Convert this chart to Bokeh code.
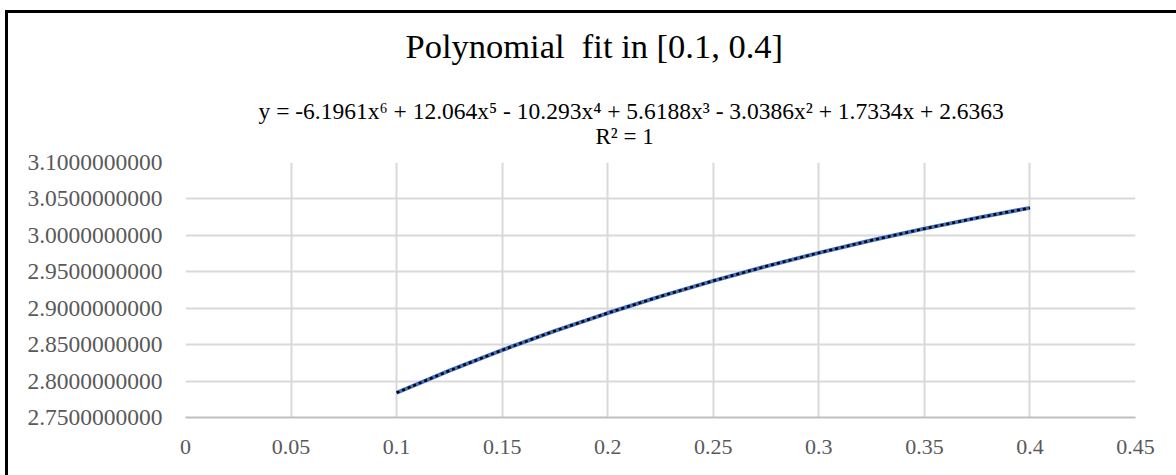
from bokeh.plotting import figure
from bokeh.layouts import column, row
from bokeh.models import Range1d, FixedTicker, PrintfTickFormatter, Div
from bokeh.core.properties import value
from bokeh.embed import file_html
from bokeh.resources import INLINE

# data
x_vals = [0.1, 0.125, 0.15, 0.175, 0.2, 0.225, 0.25, 0.275, 0.3, 0.325, 0.35, 0.375, 0.4]
y_vals = [2.7840, 2.8143, 2.8425, 2.8689, 2.8934, 2.9163, 2.9376, 2.9575, 2.9760, 2.9932, 3.0092, 3.0240, 3.0377]

x_ticks = [0, 0.05, 0.1, 0.15, 0.2, 0.25, 0.3, 0.35, 0.4, 0.45]
x_tick_labels = ["0", "0.05", "0.1", "0.15", "0.2", "0.25", "0.3", "0.35", "0.4", "0.45"]
y_ticks = [2.75, 2.8, 2.85, 2.9, 2.95, 3.0, 3.05, 3.1]

title_text = "Polynomial\u00a0 fit in [0.1, 0.4]"
equation_text = "y = -6.1961x\u2076 + 12.064x\u2075 - 10.293x\u2074 + 5.6188x\u00b3 - 3.0386x\u00b2 + 1.7334x + 2.6363"
r2_text = "R\u00b2 = 1"

FONT = "Liberation Serif"
FX, FY, BW = 5, 10, 3          # chart-area frame: left/top edge and thickness
OX, OY = FX + BW, FY + BW      # content origin in page pixels
W = 1176 - OX
PL, PR, PT, PB = 185, 1135, 162, 417   # plot area in page pixels
HEAD_BOTTOM = 150
HEAD_H = HEAD_BOTTOM - OY
MAIN_H = 475 - HEAD_BOTTOM
TEXT_SHIFT = 10                # measured baseline correction of the text glyph

def hy(py):   # page y -> header y
    return py - OY - TEXT_SHIFT

# ---- header with title, equation, R^2 (its frame is aligned with the plot area) ----
head = figure(width=W, height=HEAD_H, output_backend="svg", toolbar_location=None,
              x_range=Range1d(PL, PR), y_range=Range1d(HEAD_H, 0),
              x_axis_type=None, y_axis_type=None,
              min_border=0, min_border_left=0, min_border_right=0, min_border_top=0, min_border_bottom=0)
head.grid.visible = False
head.outline_line_color = None
head.background_fill_color = "white"
head.border_fill_color = "white"

head.text(x=[405], y=[hy(55)], text=[title_text], text_font=value(FONT), text_font_size="34.5px",
          text_color="black", text_align="left", text_baseline="alphabetic")
head.text(x=[258], y=[hy(120)], text=[equation_text], text_font=value(FONT), text_font_size="23.5px",
          text_color="black", text_align="left", text_baseline="alphabetic")
head.text(x=[595], y=[hy(145.5)], text=[r2_text], text_font=value(FONT), text_font_size="23px",
          text_color="black", text_align="left", text_baseline="alphabetic")

# ---- main plot ----
p = figure(width=W, height=MAIN_H, output_backend="svg", toolbar_location=None,
           x_range=Range1d(0, 0.45), y_range=Range1d(2.75, 3.1),
           min_border_left=PL - OX, min_border_right=1176 - PR,
           min_border_top=PT - HEAD_BOTTOM, min_border_bottom=475 - PB)
p.outline_line_color = None
p.background_fill_color = "white"
p.border_fill_color = "white"

p.xaxis.ticker = FixedTicker(ticks=x_ticks)
p.xaxis.major_label_overrides = {t: s for t, s in zip(x_ticks, x_tick_labels)}
p.yaxis.ticker = FixedTicker(ticks=y_ticks)
p.yaxis.formatter = PrintfTickFormatter(format="%.10f")

for ax in (p.xaxis, p.yaxis):
    ax.major_tick_line_color = None
    ax.minor_tick_line_color = None
    ax.major_label_text_font = FONT
    ax.major_label_text_color = "#595959"
p.xaxis.major_label_text_font_size = "22px"
p.yaxis.major_label_text_font_size = "23.5px"
p.yaxis.axis_line_color = None
p.xaxis.axis_line_color = "#bfbfbf"
p.xaxis.axis_line_width = 2
p.xaxis.major_label_standoff = 16
p.yaxis.major_label_standoff = 17

p.xgrid.grid_line_color = "#d9d9d9"
p.ygrid.grid_line_color = "#d9d9d9"
p.xgrid.grid_line_width = 2
p.ygrid.grid_line_width = 2

p.line(x_vals, y_vals, line_color="#4472C4", line_width=4)
p.line(x_vals, y_vals, line_color="black", line_width=2.5, line_dash="3 3", line_cap="butt")

top_edge = Div(text="", width=1176 - FX, height=BW, margin=0, styles={"background-color": "black"})
left_edge = Div(text="", width=BW, height=475 - OY, margin=0, styles={"background-color": "black"})
layout = column(top_edge,
                row(left_edge, column(head, p, spacing=0, margin=0), spacing=0, margin=0),
                spacing=0, margin=(FY, 0, 0, FX))

open("out.html", "w").write(file_html(layout, INLINE))
